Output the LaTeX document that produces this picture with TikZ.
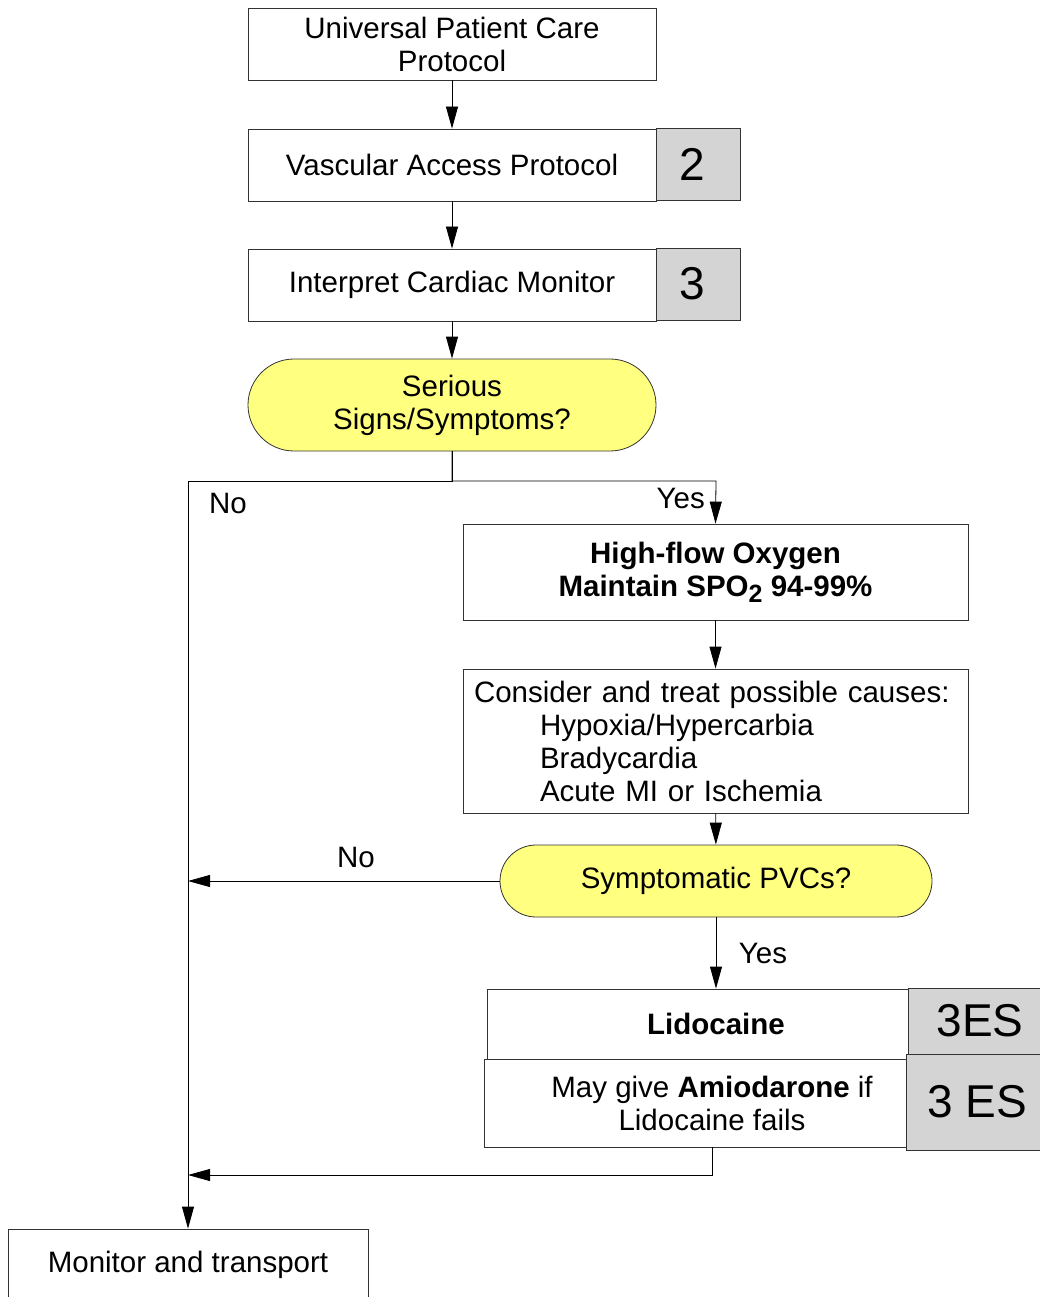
\documentclass[tikz,border=0pt]{standalone}
\usepackage{fontspec}
\setmainfont{Liberation Sans}
\usetikzlibrary{arrows.meta}
\definecolor{boxgray}{RGB}{212,212,212}
\definecolor{termyellow}{RGB}{255,255,128}
\begin{document}
\begin{tikzpicture}[x=1pt,y=-1pt,font=\fontsize{29.5}{33}\selectfont,
    box/.style={draw=black!80,line width=0.8pt,fill=white,minimum height=72pt,inner sep=0pt,align=center},
    num/.style={draw=black!80,line width=0.8pt,fill=boxgray,inner sep=0pt,font=\fontsize{46}{46}\selectfont},
    term/.style={draw=black!80,line width=0.8pt,fill=termyellow,inner sep=0pt,align=center},
    txt/.style={inner sep=0pt},
    arr/.style={-{Triangle[length=22pt,width=12pt]},line width=0.8pt}]
    \useasboundingbox (0,0) rectangle (1039,1297);
    \node[box,minimum width=408pt] (upc) at (452,44) {Universal Patient Care\\Protocol};
    \node[box,minimum width=408pt] (vasc) at (452,165) {Vascular Access Protocol};
    \node[num,minimum width=84pt,minimum height=72pt] (vascnum) at (698,164) {2\hspace*{12pt}};
    \node[box,minimum width=408pt] (cardiac) at (452,285) {Interpret Cardiac Monitor};
    \node[num,minimum width=84pt,minimum height=72pt] (cardiacnum) at (698,284) {3\hspace*{12pt}};
    \node[term,minimum width=408pt,minimum height=92pt,rounded corners=46pt] (serious) at (452,405) {Serious\\Signs/Symptoms?};
    \node[box,minimum width=505pt,minimum height=96pt] (oxygen) at (715.5,572) {\bfseries High-flow Oxygen\\\bfseries Maintain SPO\raisebox{-6pt}{\fontsize{25}{25}\selectfont 2} 94-99\%};
    \node[box,minimum width=505pt,minimum height=144pt,text width=483pt,align=left,inner xsep=11pt] (causes) at (715.5,741) {Consider and treat possible causes:\\
        \hspace*{66pt}Hypoxia/Hypercarbia\\
        \hspace*{66pt}Bradycardia\\
        \hspace*{66pt}Acute MI or Ischemia};
    \node[term,minimum width=432pt,minimum height=72pt,rounded corners=36pt] (pvc) at (716,881) {Symptomatic PVCs?};
    \node[box,minimum width=458pt,minimum height=70pt] (lido) at (716,1024) {\bfseries Lidocaine};
    \node[num,minimum width=132pt,minimum height=66pt] (lidonum) at (974,1021) {\hspace*{12pt}3ES};
    \node[box,minimum width=456pt,minimum height=88pt] (amio) at (712,1103) {May give \textbf{Amiodarone} if\\Lidocaine fails};
    \node[num,minimum width=134pt,minimum height=96pt] (amionum) at (973,1102) {\hspace*{8pt}3 ES};
    \node[box,minimum width=360pt] (transport) at (188,1265) {Monitor and transport};
    \coordinate (nosplit) at (188,481);
    \coordinate (yessplit) at (716,481);
    \coordinate (back) at (712,1175);
    \node[txt] (nolabel) at (228,503) {No};
    \node[txt,anchor=east] (yeslabel) at (705,498) {Yes};
    \node[txt] (pvcno) at (356,857) {No};
    \node[txt] (pvcyes) at (763,953) {Yes};
    \draw[arr] (upc) -- (vasc);
    \draw[arr] (vasc) -- (cardiac);
    \draw[arr] (cardiac) -- (serious);
    \draw[arr] (serious.south) |- (nosplit) -- (transport.north);
    \draw[arr] (serious.south) |- (yessplit) -- (oxygen.north);
    \draw[arr] (oxygen) -- (causes);
    \draw[arr] (causes) -- (pvc);
    \draw[arr] (pvc.west) -- (pvc.west -| nosplit);
    \draw[arr] (pvc.south) -- (pvc.south |- lido.north);
    \draw[arr] (back |- amio.south) -- (back) -- (back -| nosplit);
\end{tikzpicture}
\end{document}
